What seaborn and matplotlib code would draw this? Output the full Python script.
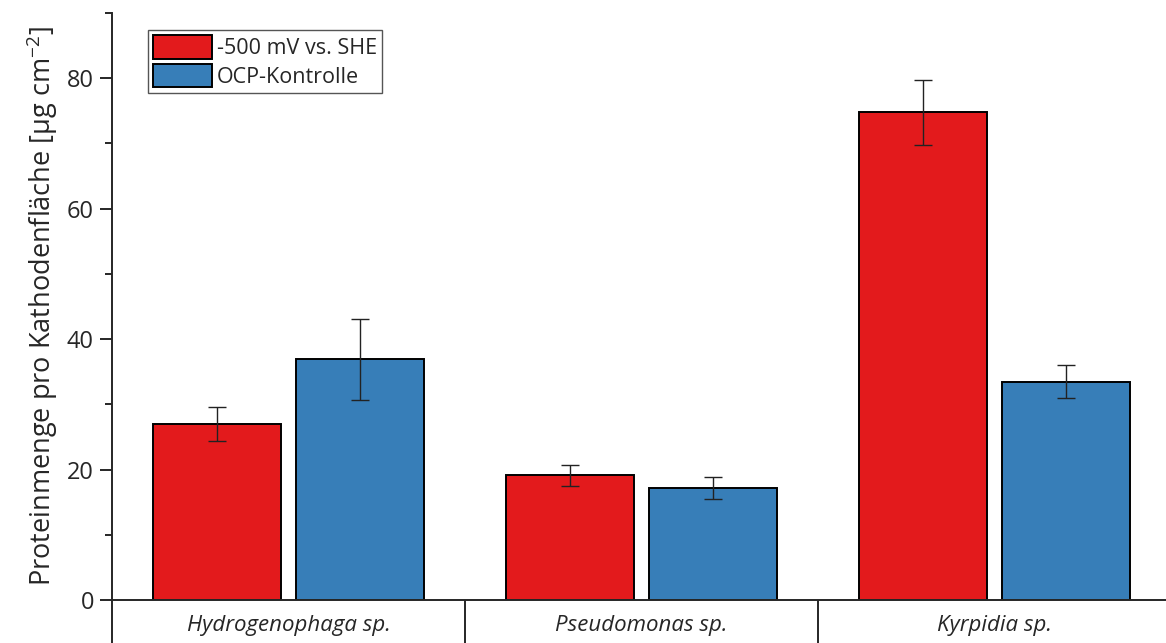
import matplotlib
matplotlib.use("Agg")
import matplotlib.pyplot as plt
import pandas as pd
import seaborn as sns
from matplotlib.ticker import MultipleLocator

# protein per cathode area, mean +/- sd
species = ["Hydrogenophaga sp.", "Pseudomonas sp.", "Kyrpidia sp."]
conditions = ["-500 mV vs. SHE", "OCP-Kontrolle"]
poised_mean = [27.0, 19.1, 74.8]
poised_err = [2.6, 1.6, 5.0]
ocp_mean = [36.9, 17.2, 33.5]
ocp_err = [6.2, 1.7, 2.5]
palette = {"-500 mV vs. SHE": "#E31A1C", "OCP-Kontrolle": "#377EB8"}

df = pd.DataFrame({
    "species": species * 2,
    "condition": [conditions[0]] * 3 + [conditions[1]] * 3,
    "mean": poised_mean + ocp_mean,
    "err": poised_err + ocp_err,
})

sns.set_style("ticks")
plt.rcParams["font.family"] = ["Open Sans", "DejaVu Sans"]

fig = plt.figure(figsize=(11.66, 6.43), dpi=100)
ax = fig.add_axes([112 / 1166, 43 / 643, 1059 / 1166, 587 / 643])

sns.barplot(
    data=df, x="species", y="mean", hue="condition", order=species,
    hue_order=conditions, palette=palette, width=0.81, gap=0.1,
    errorbar=None, edgecolor="black", linewidth=1.4, saturation=1,
    ax=ax,
)

# error bars on the bar centres seaborn placed
for cont, cond in zip(ax.containers, conditions):
    sub = df[df["condition"] == cond].set_index("species").loc[species]
    xs = [p.get_x() + p.get_width() / 2 for p in cont.patches]
    ax.errorbar(xs, sub["mean"], yerr=sub["err"], fmt="none",
                ecolor="#222222", elinewidth=1.0, capsize=6.5, capthick=1.0)

ax.set_xlim(-0.5, 2.5)
ax.set_ylim(0, 90)
ax.yaxis.set_major_locator(MultipleLocator(20))
ax.yaxis.set_minor_locator(MultipleLocator(10))
ax.tick_params(axis="y", which="major", length=9, width=1.4, labelsize=17, pad=4)
ax.tick_params(axis="y", which="minor", length=5, width=1.4)

# category separators drawn as long minor ticks under the axis
ax.set_xticks([-0.5, 0.5, 1.5], minor=True)
ax.tick_params(axis="x", which="minor", length=32, width=1.4)
ax.tick_params(axis="x", which="major", length=0, labelsize=16, pad=11)
for lbl in ax.get_xticklabels():
    lbl.set_style("italic")

for side in ["top", "right"]:
    ax.spines[side].set_visible(False)
for side in ["left", "bottom"]:
    ax.spines[side].set_linewidth(1.4)

ax.set_xlabel("")
ax.set_ylabel("Proteinmenge pro Kathodenfläche [µg cm$^{\\mathregular{-2}}$]",
              fontsize=19.5, labelpad=5)

leg = ax.legend(
    loc="upper left", bbox_to_anchor=(0.034, 0.971), fontsize=15.5,
    handlelength=2.7, handleheight=1.3, handletextpad=0.25,
    labelspacing=0.2, borderpad=0.25, borderaxespad=0,
    fancybox=False, framealpha=1, edgecolor="#555555", title=None,
)
leg.get_frame().set_linewidth(1.0)

fig.savefig("out.png", dpi=100)
